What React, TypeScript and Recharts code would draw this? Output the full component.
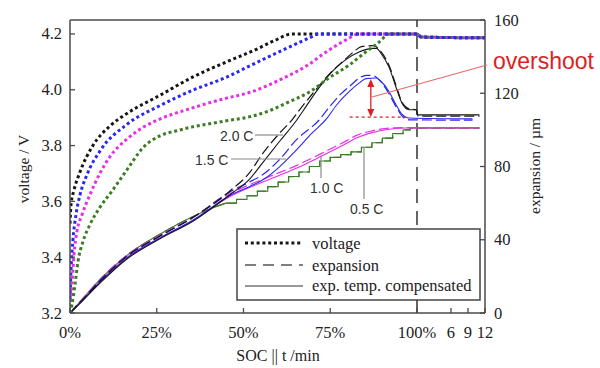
import React from 'react';
import { LineChart, Line, XAxis, YAxis, ReferenceLine, ReferenceDot } from 'recharts';

// ---- axes ----
const socTicks = [0, 25, 50, 75, 100, 109.8, 114.7, 119.6];
const socTickLabels = ['0%', '25%', '50%', '75%', '100%', '6', '9', '12'];
const voltTicks = [3.2, 3.4, 3.6, 3.8, 4.0, 4.2];
const voltTickLabels = ['3.2', '3.4', '3.6', '3.8', '4.0', '4.2'];
const expTicks = [0, 40, 80, 120, 160];
const expTickLabels = ['0', '40', '80', '120', '160'];

// ---- voltage (SOC %, V) ----
const voltage20C: [number, number][] = [
  [0, 3.52], [0.3, 3.59], [1.15, 3.64], [2.9, 3.706], [6.6, 3.8], [11.5, 3.87], [16.4, 3.915],
  [25.9, 3.98], [35.3, 4.045], [45.1, 4.1], [53.7, 4.145], [58.9, 4.176], [64.1, 4.2],
  [100, 4.2], [101.2, 4.189], [119.6, 4.186],
];
const voltage15C: [number, number][] = [
  [0, 3.25], [0.3, 3.356], [0.86, 3.463], [1.72, 3.552], [2.9, 3.624], [4.9, 3.696], [8.6, 3.78],
  [16.4, 3.876], [25.9, 3.943], [35.3, 3.998], [45.1, 4.045], [51.7, 4.085], [57.5, 4.12],
  [63.2, 4.153], [69, 4.186], [71.8, 4.2], [100, 4.2], [101.2, 4.189], [119.6, 4.186],
];
const voltage10C: [number, number][] = [
  [0, 3.22], [0.57, 3.302], [1.15, 3.409], [2, 3.492], [3.45, 3.552], [5.75, 3.624], [8.6, 3.7],
  [11.5, 3.76], [16.4, 3.823], [21, 3.865], [25.9, 3.895], [35.3, 3.935], [45.1, 3.97],
  [51.7, 3.99], [61.2, 4.04], [68.1, 4.085], [73.9, 4.136], [79.6, 4.179], [83.3, 4.2],
  [100, 4.2], [101.2, 4.189], [119.6, 4.186],
];
const voltage05C: [number, number][] = [
  [0, 3.2], [0.57, 3.23], [1.44, 3.302], [2.3, 3.384], [3.74, 3.456], [5.75, 3.517], [8.6, 3.578],
  [12.4, 3.642], [16.4, 3.713], [21, 3.792], [25.9, 3.835], [30.8, 3.853], [35.3, 3.867],
  [40.2, 3.878], [45.1, 3.889], [51.7, 3.903], [57.5, 3.925], [63.2, 3.957], [69, 3.992],
  [74.7, 4.043], [80.5, 4.089], [85.3, 4.136], [89.1, 4.171], [92, 4.2], [100, 4.2],
  [101.2, 4.189], [119.6, 4.186],
];

// ---- expansion (SOC %, µm) ----
const exp20C: [number, number][] = [
  [0, 0], [4, 8], [9, 18], [16.4, 31], [25.9, 42], [35.3, 52], [46, 66.5], [51.7, 76.5], [55.5, 87],
  [60.3, 98], [64, 105.5], [67, 113], [70, 120], [75, 131], [79, 138], [82, 143], [84, 145.5],
  [87.5, 146], [89.5, 143], [92, 135], [94, 124], [95.7, 115], [97.7, 111.5], [99.8, 111],
  [100.3, 107.5], [118, 107.5],
];
const comp20C: [number, number][] = [
  [0, 0], [4, 7.5], [9, 17], [16.4, 29.5], [25.9, 40.5], [35.3, 50], [46, 64.5], [51.7, 73],
  [55.5, 82], [60.3, 93.5], [65.2, 105], [68.1, 113], [71, 121], [75.6, 132], [79.6, 138.5],
  [83.3, 142.5], [87.1, 144.5], [88.3, 144.5], [89.9, 141], [92, 134], [94, 123], [95.7, 114.5],
  [97.7, 111], [99.8, 111], [100.2, 108.2], [118, 108.2],
];
const exp15C: [number, number][] = [
  [0, 0], [4, 8], [9, 18.5], [16.4, 31], [25.9, 42], [35.3, 52], [46, 66], [51.7, 71.5], [55.5, 75.5],
  [60.3, 83.6], [65.2, 94.5], [71.8, 105.4], [75, 113], [78, 119.5], [81, 124.5], [83.5, 128.5],
  [85.5, 129.8], [87.5, 129.5], [89.9, 125.5], [92, 119.5], [94, 112.5], [95.7, 107.5],
  [97.7, 105.5], [116, 105.3],
];
const comp15C: [number, number][] = [
  [0, 0], [4, 7.5], [9, 17.5], [16.4, 30], [25.9, 41], [35.3, 50.5], [46, 64], [51.7, 69],
  [55.5, 72.6], [60.3, 79.7], [65.2, 89], [69.8, 98.3], [73.9, 106], [77, 114], [80.5, 121],
  [83.3, 125.5], [85.3, 128], [88.2, 128.3], [89.9, 126], [92, 120.7], [94, 113.6], [95.7, 108.5],
  [97.7, 106.5], [116, 106],
];
const exp10C: [number, number][] = [
  [0, 0], [4, 8.5], [9, 19], [16.4, 31.5], [25.9, 42.5], [35.3, 52], [46, 65], [55.5, 73],
  [65.2, 80.5], [71.8, 86.5], [79.6, 94], [82.5, 97], [87.1, 99.5], [92, 101], [96.8, 101.2],
  [118, 101.2],
];
const comp10C: [number, number][] = [
  [0, 0], [4, 8], [9, 18], [16.4, 30.5], [25.9, 41], [35.3, 50.5], [46, 63.5], [55.5, 71.5],
  [65.2, 79], [71.8, 85], [79.6, 92.5], [82.5, 95.5], [87.1, 98.5], [92, 100.3], [96.8, 101],
  [118, 101],
];
const exp05CStart: [number, number][] = [
  [0, 0], [4, 8.5], [9, 19], [16.4, 31.5], [25.9, 43], [35.3, 52.5], [42, 58], [45, 60],
];
const exp05CSteps: [number, number][] = [
  [45, 60], [48, 62], [51, 64], [54, 66.5], [57, 69], [60, 71.5], [63, 74.5], [66, 77], [69, 80],
  [72, 83], [75, 85], [78, 86.5], [81, 88], [84, 90.5], [87, 93], [90, 95.5], [93, 98], [96, 100],
  [98, 101], [118, 101],
];

// ---- overshoot marker (SOC %, µm) ----
const overshootSoc = 86.7;
const overshootPeak = 127.8;
const overshootBase = 107;
const baseLineSoc = [80.6, 97];

// ---- text ----
const rateLabels = ['2.0 C', '1.5 C', '1.0 C', '0.5 C'];
const legendLabels = ['voltage', 'expansion', 'exp. temp. compensated'];

const toV = (a: [number, number][]) => a.map(([s, v]) => ({ s, v }));
const toE = (a: [number, number][]) => a.map(([s, e]) => ({ s, e }));

const SERIF = '"Liberation Serif", "Times New Roman", serif';
const SANS = '"Liberation Sans", Arial, sans-serif';
const C_BLACK = '#161616';
const C_BLUE = '#2828f0';
const C_MAGENTA = '#e62ee6';
const C_GREEN = '#3b7d24';
const AXIS = '#4a4a4a';
const RED = '#dd1f1f';
const DOT = '3 2.8';
const DASH = '10 4';

const XTick = (props: any) => {
  const { x, y, payload } = props;
  const i = socTicks.findIndex((t) => Math.abs(t - payload.value) < 1e-6);
  return (
    <g>
      <line x1={x} x2={x} y1={y} y2={y - 5} stroke={AXIS} strokeWidth={1.3} />
      <text x={x} y={y + 25} textAnchor="middle" fontSize={16.5} fontFamily={SERIF} fill="#222">
        {socTickLabels[i]}
      </text>
    </g>
  );
};
const VTick = (props: any) => {
  const { x, y, payload } = props;
  const i = voltTicks.findIndex((t) => Math.abs(t - payload.value) < 1e-6);
  return (
    <g>
      <line x1={x} x2={x + 5} y1={y} y2={y} stroke={AXIS} strokeWidth={1.3} />
      <text x={x - 8} y={y + 5.5} textAnchor="end" fontSize={16.5} fontFamily={SERIF} fill="#222">
        {voltTickLabels[i]}
      </text>
    </g>
  );
};
const ETick = (props: any) => {
  const { x, y, payload } = props;
  const i = expTicks.findIndex((t) => Math.abs(t - payload.value) < 1e-6);
  return (
    <g>
      <line x1={x} x2={x - 5} y1={y} y2={y} stroke={AXIS} strokeWidth={1.3} />
      <text x={x + 9} y={y + 5.5} textAnchor="start" fontSize={16.5} fontFamily={SERIF} fill="#222">
        {expTickLabels[i]}
      </text>
    </g>
  );
};

const ArrowUp = (p: any) => (
  <path d={`M${p.cx},${p.cy} L${p.cx - 3.5},${p.cy + 8} L${p.cx + 3.5},${p.cy + 8} Z`} fill={RED} />
);
const ArrowDown = (p: any) => (
  <path d={`M${p.cx},${p.cy} L${p.cx - 3.5},${p.cy - 8} L${p.cx + 3.5},${p.cy - 8} Z`} fill={RED} />
);

export default function App() {
  const common = { dot: false, activeDot: false, isAnimationActive: false } as any;
  return (
    <div style={{ position: 'absolute', left: 0, top: 0, width: 600, height: 368, background: '#fff' }}>
      <LineChart width={600} height={368} margin={{ top: 20, right: 0, bottom: 25, left: 0 }}>
        <XAxis
          dataKey="s"
          type="number"
          domain={[0, 119.6]}
          ticks={socTicks}
          interval={0}
          allowDataOverflow
          height={30}
          tickSize={0}
          tickMargin={0}
          tickLine={false}
          tick={<XTick />}
          axisLine={{ stroke: AXIS, strokeWidth: 1.5 }}
        />
        <YAxis
          yAxisId="v"
          type="number"
          domain={[3.2, 4.25]}
          ticks={voltTicks}
          interval={0}
          allowDataOverflow
          width={70}
          tickSize={0}
          tickMargin={0}
          tickLine={false}
          tick={<VTick />}
          axisLine={{ stroke: AXIS, strokeWidth: 1.5 }}
        />
        <YAxis
          yAxisId="e"
          orientation="right"
          type="number"
          domain={[0, 160]}
          ticks={expTicks}
          interval={0}
          allowDataOverflow
          width={115}
          tickSize={0}
          tickMargin={0}
          tickLine={false}
          tick={<ETick />}
          axisLine={{ stroke: AXIS, strokeWidth: 1.5 }}
        />
        <ReferenceLine yAxisId="v" y={4.25} stroke={AXIS} strokeWidth={1.5} />
        <ReferenceLine yAxisId="v" x={100} stroke="#333" strokeWidth={1.5} strokeDasharray="14 8" />

        {/* expansion (dashed) and temperature compensated (solid) */}
        <Line {...common} yAxisId="e" data={toE(exp05CStart)} dataKey="e" type="monotone" stroke={C_GREEN} strokeWidth={1.2} strokeDasharray={DASH} />
        <Line {...common} yAxisId="e" data={toE(exp05CStart)} dataKey="e" type="monotone" stroke={C_GREEN} strokeWidth={1.1} />
        <Line {...common} yAxisId="e" data={toE(exp05CSteps)} dataKey="e" type="stepAfter" stroke={C_GREEN} strokeWidth={1.2} strokeDasharray={DASH} />
        <Line {...common} yAxisId="e" data={toE(exp05CSteps)} dataKey="e" type="stepAfter" stroke={C_GREEN} strokeWidth={1.1} />
        <Line {...common} yAxisId="e" data={toE(comp10C)} dataKey="e" type="monotone" stroke={C_MAGENTA} strokeWidth={1.1} />
        <Line {...common} yAxisId="e" data={toE(exp10C)} dataKey="e" type="monotone" stroke={C_MAGENTA} strokeWidth={1.2} strokeDasharray={DASH} />
        <Line {...common} yAxisId="e" data={toE(comp15C)} dataKey="e" type="monotone" stroke={C_BLUE} strokeWidth={1.1} />
        <Line {...common} yAxisId="e" data={toE(exp15C)} dataKey="e" type="monotone" stroke={C_BLUE} strokeWidth={1.2} strokeDasharray={DASH} />
        <Line {...common} yAxisId="e" data={toE(comp20C)} dataKey="e" type="monotone" stroke={C_BLACK} strokeWidth={1.1} />
        <Line {...common} yAxisId="e" data={toE(exp20C)} dataKey="e" type="monotone" stroke={C_BLACK} strokeWidth={1.2} strokeDasharray={DASH} />

        {/* voltage (dotted) */}
        <Line {...common} yAxisId="v" data={toV(voltage20C)} dataKey="v" type="monotone" stroke={C_BLACK} strokeWidth={3} strokeDasharray={DOT} />
        <Line {...common} yAxisId="v" data={toV(voltage10C)} dataKey="v" type="monotone" stroke={C_MAGENTA} strokeWidth={3} strokeDasharray={DOT} />
        <Line {...common} yAxisId="v" data={toV(voltage05C)} dataKey="v" type="monotone" stroke={C_GREEN} strokeWidth={3} strokeDasharray={DOT} />
        <Line {...common} yAxisId="v" data={toV(voltage15C)} dataKey="v" type="monotone" stroke={C_BLUE} strokeWidth={3} strokeDasharray={DOT} />

        {/* overshoot marker */}
        <ReferenceLine
          yAxisId="e"
          segment={[{ x: baseLineSoc[0], y: overshootBase }, { x: baseLineSoc[1], y: overshootBase }]}
          stroke={RED}
          strokeWidth={1.3}
          strokeDasharray="3 3"
        />
        <ReferenceLine
          yAxisId="e"
          segment={[{ x: overshootSoc, y: overshootPeak - 3 }, { x: overshootSoc, y: overshootBase + 3 }]}
          stroke={RED}
          strokeWidth={1.3}
        />
        <ReferenceDot yAxisId="e" x={overshootSoc} y={overshootPeak} shape={<ArrowUp />} />
        <ReferenceDot yAxisId="e" x={overshootSoc} y={overshootBase} shape={<ArrowDown />} />
      </LineChart>

      <svg
        width={600}
        height={368}
        style={{ position: 'absolute', left: 0, top: 0, pointerEvents: 'none' }}
      >
        {/* axis titles */}
        <text transform="translate(29,169) rotate(-90)" textAnchor="middle" fontSize={15.5} fontFamily={SERIF} fill="#222">
          voltage / V
        </text>
        <text transform="translate(540,166) rotate(-90)" textAnchor="middle" fontSize={15.5} fontFamily={SERIF} fill="#222">
          expansion / µm
        </text>
        <text x={278} y={361} textAnchor="middle" fontSize={16} fontFamily={SERIF} fill="#222">
          SOC || t /min
        </text>

        {/* overshoot annotation */}
        <line x1={372} y1={97} x2={487} y2={65} stroke="#e86a6a" strokeWidth={1.2} />
        <text x={493} y={69} fontSize={23} fontFamily={SANS} fill={RED}>
          overshoot
        </text>

        {/* C-rate labels */}
        <line x1={255} y1={135} x2={283} y2={135} stroke="#8a8a8a" strokeWidth={1.2} />
        <text x={220} y={141} fontSize={14} fontFamily={SANS} fill="#333">{rateLabels[0]}</text>
        <line x1={231} y1={159} x2={286} y2={159} stroke="#8a8a8a" strokeWidth={1.2} />
        <text x={195} y={165} fontSize={14} fontFamily={SANS} fill="#333">{rateLabels[1]}</text>
        <line x1={321} y1={157} x2={321} y2={178} stroke="#8a8a8a" strokeWidth={1.2} />
        <text x={310} y={193} fontSize={14} fontFamily={SANS} fill="#333">{rateLabels[2]}</text>
        <line x1={364} y1={148} x2={364} y2={199} stroke="#8a8a8a" strokeWidth={1.2} />
        <text x={350} y={214} fontSize={14} fontFamily={SANS} fill="#333">{rateLabels[3]}</text>

        {/* legend */}
        <rect x={237} y={229} width={243} height={71} fill="#fff" stroke="#444" strokeWidth={1.5} />
        <line x1={245} y1={243} x2={303} y2={243} stroke={C_BLACK} strokeWidth={3} strokeDasharray={DOT} />
        <text x={312} y={248.5} fontSize={16.5} fontFamily={SERIF} fill="#222">{legendLabels[0]}</text>
        <line x1={245} y1={265} x2={303} y2={265} stroke="#555" strokeWidth={1.3} strokeDasharray="11 7" />
        <text x={312} y={270.5} fontSize={16.5} fontFamily={SERIF} fill="#222">{legendLabels[1]}</text>
        <line x1={245} y1={286} x2={303} y2={286} stroke="#333" strokeWidth={1.2} />
        <text x={312} y={291} fontSize={16.5} fontFamily={SERIF} fill="#222">{legendLabels[2]}</text>
      </svg>
    </div>
  );
}
